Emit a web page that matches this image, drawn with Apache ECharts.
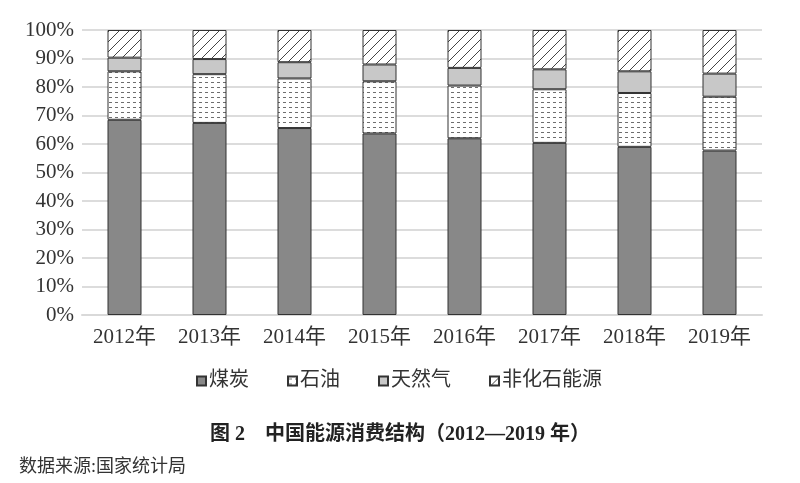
<!DOCTYPE html>
<html><head><meta charset="utf-8">
<script src="https://cdn.jsdelivr.net/npm/echarts@6/dist/echarts.min.js"></script>
<style>html,body{margin:0;padding:0;background:#fff}#c{width:800px;height:483px}</style>
</head><body><div id="c"></div>
<script>
const years = ['2012年','2013年','2014年','2015年','2016年','2017年','2018年','2019年'];
const coal = [68.5, 67.4, 65.6, 63.7, 62.0, 60.4, 59.0, 57.7];
const oil = [17.0, 17.1, 17.4, 18.3, 18.5, 18.8, 18.9, 18.9];
const gas = [4.8, 5.3, 5.7, 5.9, 6.2, 7.0, 7.6, 8.1];
const nonFossil = [9.7, 10.2, 11.3, 12.1, 13.3, 13.8, 14.5, 15.3];
const seriesNames = ['煤炭','石油','天然气','非化石能源'];

function dashPattern(){
  const c = document.createElement('canvas'); c.width = 6; c.height = 5;
  const g = c.getContext('2d');
  g.fillStyle = '#ffffff'; g.fillRect(0,0,6,5);
  g.fillStyle = '#6e6e6e'; g.fillRect(1,2,3,1);
  return c;
}
function hatchPattern(){
  const c = document.createElement('canvas'); c.width = 10; c.height = 10;
  const g = c.getContext('2d');
  g.fillStyle = '#ffffff'; g.fillRect(0,0,10,10);
  g.strokeStyle = '#444'; g.lineWidth = 1;
  g.beginPath();
  g.moveTo(-1,11); g.lineTo(11,-1);
  g.moveTo(-6,6); g.lineTo(6,-6);
  g.moveTo(4,16); g.lineTo(16,4);
  g.stroke();
  return c;
}
const chart = echarts.init(document.getElementById('c'));
const serif = '"Liberation Serif","Noto Sans CJK SC",serif';
const border = {borderColor:'#333', borderWidth:1};
const mk = (name, data, color) => ({
  name, type:'bar', stack:'s', data, barWidth:'40%',
  itemStyle: Object.assign({color}, border)
});
chart.setOption({
  animation:false,
  grid:{left:82, right:38, top:30, bottom:168},
  title:[
    {text:'图 2　中国能源消费结构（2012—2019 年）', left:'center', top:420,
     textStyle:{fontFamily:serif, fontSize:20, fontWeight:'bold', color:'#222'}},
    {text:'数据来源:国家统计局', left:14, top:453,
     textStyle:{fontFamily:serif, fontSize:18, fontWeight:'normal', color:'#333'}}
  ],
  legend:{
    data:seriesNames, left:191, top:366, itemWidth:9, itemHeight:9, itemGap:38,
    icon:'rect',
    textStyle:{fontFamily:serif, fontSize:20, color:'#333', padding:[0,0,0,-2]}
  },
  xAxis:{
    type:'category', data:years,
    axisLine:{lineStyle:{color:'#d9d9d9', width:2}},
    axisTick:{show:false},
    axisLabel:{fontFamily:serif, fontSize:21, color:'#333', margin:12}
  },
  yAxis:{
    type:'value', min:0, max:100, interval:10,
    axisLabel:{formatter:'{value}%', fontFamily:serif, fontSize:21, color:'#333', margin:8},
    splitLine:{lineStyle:{color:'#dcdcdc', width:2}},
    axisLine:{show:false}, axisTick:{show:false}
  },
  series:[
    mk(seriesNames[0], coal, '#888888'),
    mk(seriesNames[1], oil, {image:dashPattern(), repeat:'repeat'}),
    mk(seriesNames[2], gas, '#c8c8c8'),
    mk(seriesNames[3], nonFossil, {image:hatchPattern(), repeat:'repeat'})
  ]
});
</script></body></html>
